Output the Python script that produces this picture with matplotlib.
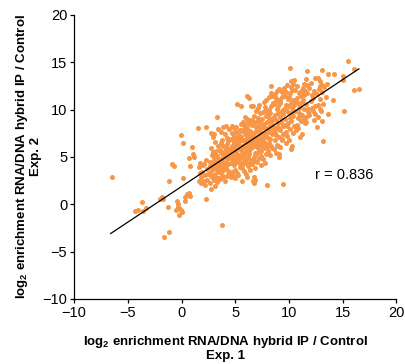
import matplotlib
matplotlib.use("Agg")
import matplotlib.pyplot as plt

plt.rcParams['font.family'] = ['Liberation Sans', 'DejaVu Sans']
plt.rcParams['mathtext.fontset'] = 'custom'
plt.rcParams['mathtext.rm'] = 'Liberation Sans:bold'
plt.rcParams['mathtext.bf'] = 'Liberation Sans:bold'

# ---- data ----
pts_outliers = [(-6.5,2.9),(-3.7,0.2),(-4.3,-0.7),(-4.05,-0.6),(-3.3,-0.35),(-3.6,-0.7),
 (-1.8,0.75),(-1.7,0.55),(-2.0,0.6),(-1.65,-3.5),(-1.2,-2.9),(-1.3,-0.3),(-1.2,2.4),
 (-0.9,4.2),(-0.7,4.0),(-0.1,7.35),(0.15,6.45),(0.1,2.8),(-0.45,0.3),(-0.35,0.05),
 (-0.25,-0.4),(-0.1,-0.65),(-0.2,-1.1),(-0.5,-0.65),(-0.35,-0.25),(0.0,-0.8),
 (0.35,0.8),(0.5,1.1),(0.7,1.15),(0.8,0.9),(0.3,0.3),(0.7,4.9),(0.75,4.0),(1.0,6.0),
 (1.1,5.3),(1.2,4.95),(1.5,8.05),(2.25,8.2),(3.3,9.2),(2.3,0.55),(2.7,1.65),(3.75,-2.2),
 (1.65,2.4),(1.8,2.2),(3.4,7.9),(3.0,7.4),(5.2,10.6),(5.55,10.35),(6.1,11.4),(6.3,11.25),
 (6.45,10.35),(6.65,10.4),(7.95,2.0),(9.45,2.1),(6.75,2.2),(6.85,2.6),(5.6,2.4),(9.1,5.0),
 (9.05,5.35),(10.1,14.4),(10.5,13.1),(11.55,13.25),(11.7,14.05),(13.05,14.15),(13.6,13.8),
 (14.15,13.8),(15.45,15.1),(16.05,14.3),(16.05,12.1),(16.5,12.2),(15.1,9.8),(14.05,11.0),
 (13.15,6.65),(12.6,8.2),(13.1,8.75),(13.6,9.5),(12.9,10.1),(15.0,13.5),(15.05,13.1),
 (12.85,12.5),(13.5,12.7),(12.4,13.3),(12.7,13.3),(11.4,12.65),(10.2,5.85),(9.35,6.8)]

pts_cloud = [
 (1.6,3.9),(1.7,4.4),(1.8,2.9),(1.9,3.4),(2.0,4.1),(2.1,2.5),(2.2,3.1),(2.3,4.7),(2.4,3.7),(1.9,2.3),
 (2.2,2.0),(2.4,2.6),(1.7,3.3),(2.1,4.3),(2.5,3.2),
 (2.6,4.5),(2.7,3.0),(2.8,5.2),(2.9,3.8),(3.0,2.6),(3.1,4.2),(3.2,5.6),(3.3,3.4),(3.4,4.8),(2.6,2.2),
 (2.8,3.6),(3.0,4.9),(3.2,2.9),(3.4,6.1),(2.7,5.9),(2.9,7.1),(3.1,6.6),(3.3,2.3),(3.5,3.9),(2.6,3.3),
 (2.8,4.1),(3.0,3.1),(3.2,4.4),(3.4,3.6),(2.9,5.5),(3.1,1.9),(3.3,5.1),(2.75,7.5),(3.05,4.6),(3.25,3.8),
 (3.45,2.8),(2.65,4.0),(2.95,2.8),(3.15,5.3),(3.35,4.3),
 (3.6,4.6),(3.7,5.4),(3.8,3.1),(3.9,6.2),(4.0,4.0),(4.1,5.0),(4.2,7.0),(4.3,3.5),(4.4,5.8),(3.6,2.7),
 (3.7,3.9),(3.8,6.8),(3.9,4.5),(4.0,2.5),(4.1,6.0),(4.2,4.8),(4.3,5.4),(4.4,3.2),(3.55,5.7),(3.65,7.6),
 (3.75,4.9),(3.85,3.6),(3.95,5.3),(4.05,7.4),(4.15,3.8),(4.25,6.4),(4.35,4.2),(4.45,7.9),(3.6,3.4),(3.7,6.5),
 (3.8,4.3),(3.9,2.9),(4.0,5.6),(4.1,4.4),(4.2,3.0),(4.3,6.7),(4.4,4.9),(4.5,5.6),(3.9,8.2),(4.1,8.3),
 (4.6,4.4),(4.7,6.1),(4.8,5.0),(4.9,7.2),(5.0,3.6),(5.1,5.5),(5.2,6.6),(5.3,4.6),(5.4,7.8),(4.6,6.9),
 (4.7,3.4),(4.8,5.8),(4.9,4.1),(5.0,6.3),(5.1,8.2),(5.2,4.9),(5.3,5.9),(5.4,3.9),(4.55,5.3),(4.65,7.5),
 (4.75,4.7),(4.85,6.5),(4.95,5.6),(5.05,4.5),(5.15,7.0),(5.25,5.2),(5.35,6.2),(5.45,4.3),(4.6,2.9),(4.8,3.0),
 (5.0,2.8),(5.2,3.3),(5.4,5.0),(4.7,8.3),(4.9,5.2),(5.1,6.0),(5.3,7.3),(5.5,5.7),(4.75,6.8),(5.05,7.6),
 (5.25,3.1),(5.45,6.7),(4.9,8.0),(5.5,8.5),
 (5.6,5.3),(5.7,6.8),(5.8,4.6),(5.9,7.4),(6.0,5.9),(6.1,8.1),(6.2,5.0),(6.3,6.5),(6.4,7.7),(5.6,6.2),
 (5.7,4.2),(5.8,7.9),(5.9,5.5),(6.0,6.9),(6.1,4.4),(6.2,7.3),(6.3,5.6),(6.4,8.5),(5.55,7.1),(5.65,5.0),
 (5.75,6.0),(5.85,8.4),(5.95,4.8),(6.05,6.4),(6.15,7.0),(6.25,5.3),(6.35,6.1),(6.45,4.7),(5.6,3.8),(5.8,3.5),
 (6.0,3.2),(6.2,4.0),(6.4,3.6),(5.7,8.7),(5.9,6.6),(6.1,5.7),(6.3,8.9),(6.5,6.8),(5.65,7.7),(5.95,7.6),
 (6.25,6.9),(6.45,5.9),(5.8,5.2),(6.0,4.5),(6.2,8.6),(6.4,7.2),(6.1,9.0),(5.9,9.2),(6.35,4.3),(6.05,2.9),
 (6.6,6.0),(6.7,7.5),(6.8,5.4),(6.9,8.2),(7.0,6.7),(7.1,9.1),(7.2,5.8),(7.3,7.8),(7.4,6.3),(6.6,8.4),
 (6.7,5.0),(6.8,7.0),(6.9,6.1),(7.0,8.8),(7.1,5.5),(7.2,7.3),(7.3,9.6),(7.4,8.0),(6.55,7.2),(6.65,6.5),
 (6.75,8.6),(6.85,4.6),(6.95,7.7),(7.05,6.0),(7.15,8.3),(7.25,6.9),(7.35,5.1),(7.45,7.4),(6.6,4.2),(6.8,3.8),
 (7.0,4.5),(7.2,4.9),(7.4,4.1),(6.7,9.3),(6.9,9.8),(7.1,10.2),(7.3,8.6),(7.5,9.0),(6.65,2.5),(6.75,2.9),
 (7.05,7.1),(7.25,8.9),(7.45,6.6),(6.85,6.6),(7.15,6.4),(7.35,7.6),(6.95,5.3),(7.2,10.5),(6.6,8.9),(7.4,5.6),
 (7.6,7.0),(7.7,8.5),(7.8,6.4),(7.9,9.3),(8.0,7.6),(8.1,10.0),(8.2,6.9),(8.3,8.8),(8.4,7.4),(7.6,9.7),
 (7.7,5.9),(7.8,8.0),(7.9,7.2),(8.0,9.5),(8.1,6.5),(8.2,8.3),(8.3,10.4),(8.4,9.0),(7.55,8.2),(7.65,7.5),
 (7.75,9.9),(7.85,5.3),(7.95,8.7),(8.05,7.0),(8.15,9.1),(8.25,7.8),(8.35,6.1),(8.45,8.5),(7.6,4.8),(7.8,4.4),
 (8.0,5.6),(8.2,5.2),(8.4,5.9),(7.7,10.8),(7.9,11.0),(8.1,11.3),(8.3,11.8),(8.5,10.7),(7.65,6.6),(7.95,6.0),
 (8.25,9.6),(8.45,11.4),(8.3,12.5),(7.8,10.3),(8.05,8.1),
 (8.6,8.0),(8.7,9.4),(8.8,7.3),(8.9,10.1),(9.0,8.6),(9.1,11.0),(9.2,7.8),(9.3,9.8),(9.4,8.3),(8.6,10.6),
 (8.7,6.8),(8.8,8.9),(8.9,8.2),(9.0,10.4),(9.1,7.1),(9.2,9.2),(9.3,11.3),(9.4,10.0),(8.55,9.1),(8.65,7.7),
 (8.75,10.9),(8.85,6.3),(8.95,9.6),(9.05,8.0),(9.15,10.7),(9.25,8.7),(9.35,6.9),(9.45,9.5),(8.6,5.8),(8.8,5.4),
 (9.0,6.2),(9.2,6.0),(9.4,7.4),(8.7,11.6),(8.9,12.0),(9.1,12.2),(9.3,11.9),(9.5,12.3),(8.8,11.2),(9.2,10.9),
 (9.6,9.0),(9.7,10.5),(9.8,8.3),(9.9,11.1),(10.0,9.6),(10.1,11.8),(10.2,8.8),(10.3,10.2),(10.4,9.3),(9.6,11.4),
 (9.7,7.6),(9.8,9.9),(9.9,8.6),(10.0,11.3),(10.1,7.9),(10.2,10.7),(10.3,12.1),(10.4,11.0),(9.55,10.1),(9.65,8.4),
 (9.75,11.9),(9.85,7.2),(9.95,10.4),(10.05,9.1),(10.15,12.4),(10.25,9.7),(10.35,7.5),(10.45,10.5),(9.7,6.5),(10.0,6.8),
 (10.3,6.2),(9.8,12.6),(10.2,13.0),(10.4,12.7),(10.5,8.3),
 (10.6,9.8),(10.7,11.2),(10.8,9.1),(10.9,11.7),(11.0,10.4),(11.1,12.0),(11.2,9.4),(11.3,11.0),(11.4,10.1),(10.6,12.1),
 (10.7,8.4),(10.8,10.7),(10.9,9.6),(11.0,11.9),(11.1,8.8),(11.2,10.8),(11.3,12.3),(11.4,11.5),(10.55,10.9),(10.65,7.8),
 (10.75,12.5),(10.85,8.0),(10.95,10.2),(11.05,9.3),(11.15,11.4),(11.25,7.4),(11.35,9.0),(11.45,12.0),(11.0,7.1),(11.5,8.6),
 (11.6,10.6),(11.7,11.8),(11.8,9.7),(11.9,12.3),(12.0,10.9),(12.1,11.5),(12.2,9.9),(12.3,12.0),(12.4,10.4),(11.6,9.2),
 (11.7,12.6),(11.8,10.1),(11.9,9.4),(12.0,12.8),(12.1,10.2),(12.2,11.2),(12.3,8.9),(12.4,11.7),(11.55,8.7),(12.45,9.5),
 (12.6,11.6),(12.7,10.5),(12.8,12.2),(12.9,11.1),(13.0,9.9),(13.1,11.9),(13.2,10.6),(13.3,12.4),(12.65,9.2),(12.85,13.0),
 (13.05,12.6),(13.4,11.3)]

exp1 = [p[0] for p in pts_outliers + pts_cloud]
exp2 = [p[1] for p in pts_outliers + pts_cloud]

fit_x = [-6.6, 16.5]
fit_y = [-3.1, 14.3]
r_text = "r = 0.836"
ticks = [-10, -5, 0, 5, 10, 15, 20]

fig = plt.figure(figsize=(4.05, 3.64), dpi=100)
ax = fig.add_axes([0.183, 0.179, 0.796, 0.780])
ax.scatter(exp1, exp2, s=13, color='#F79646', linewidths=0, zorder=2)
ax.plot(fit_x, fit_y, color='black', lw=0.9, zorder=3)
ax.text(12.4, 3.1, r_text, fontsize=10.5, va='center', ha='left')

ax.set_xlim(-10, 20)
ax.set_ylim(-10, 20)
ax.set_xticks(ticks)
ax.set_yticks(ticks)
for s in ['top', 'right']:
    ax.spines[s].set_visible(False)
ax.spines['left'].set_linewidth(0.9)
ax.spines['bottom'].set_linewidth(0.9)
ax.tick_params(direction='out', length=3, width=0.9, labelsize=10.5, pad=2)

lbl = r'log$_{\mathbf{2}}$ enrichment RNA/DNA hybrid IP / Control'
ax.set_xlabel(lbl + '\nExp. 1', fontsize=9.5, fontweight='bold', linespacing=1.0)
ax.set_ylabel(lbl + '\nExp. 2', fontsize=9.5, fontweight='bold', linespacing=1.0)
ax.xaxis.set_label_coords(0.47, -0.125, transform=ax.transAxes)
ax.xaxis.label.set_va('top')
ax.yaxis.set_label_coords(-0.10, 0.5, transform=ax.transAxes)

fig.savefig('out.png', dpi=100)
